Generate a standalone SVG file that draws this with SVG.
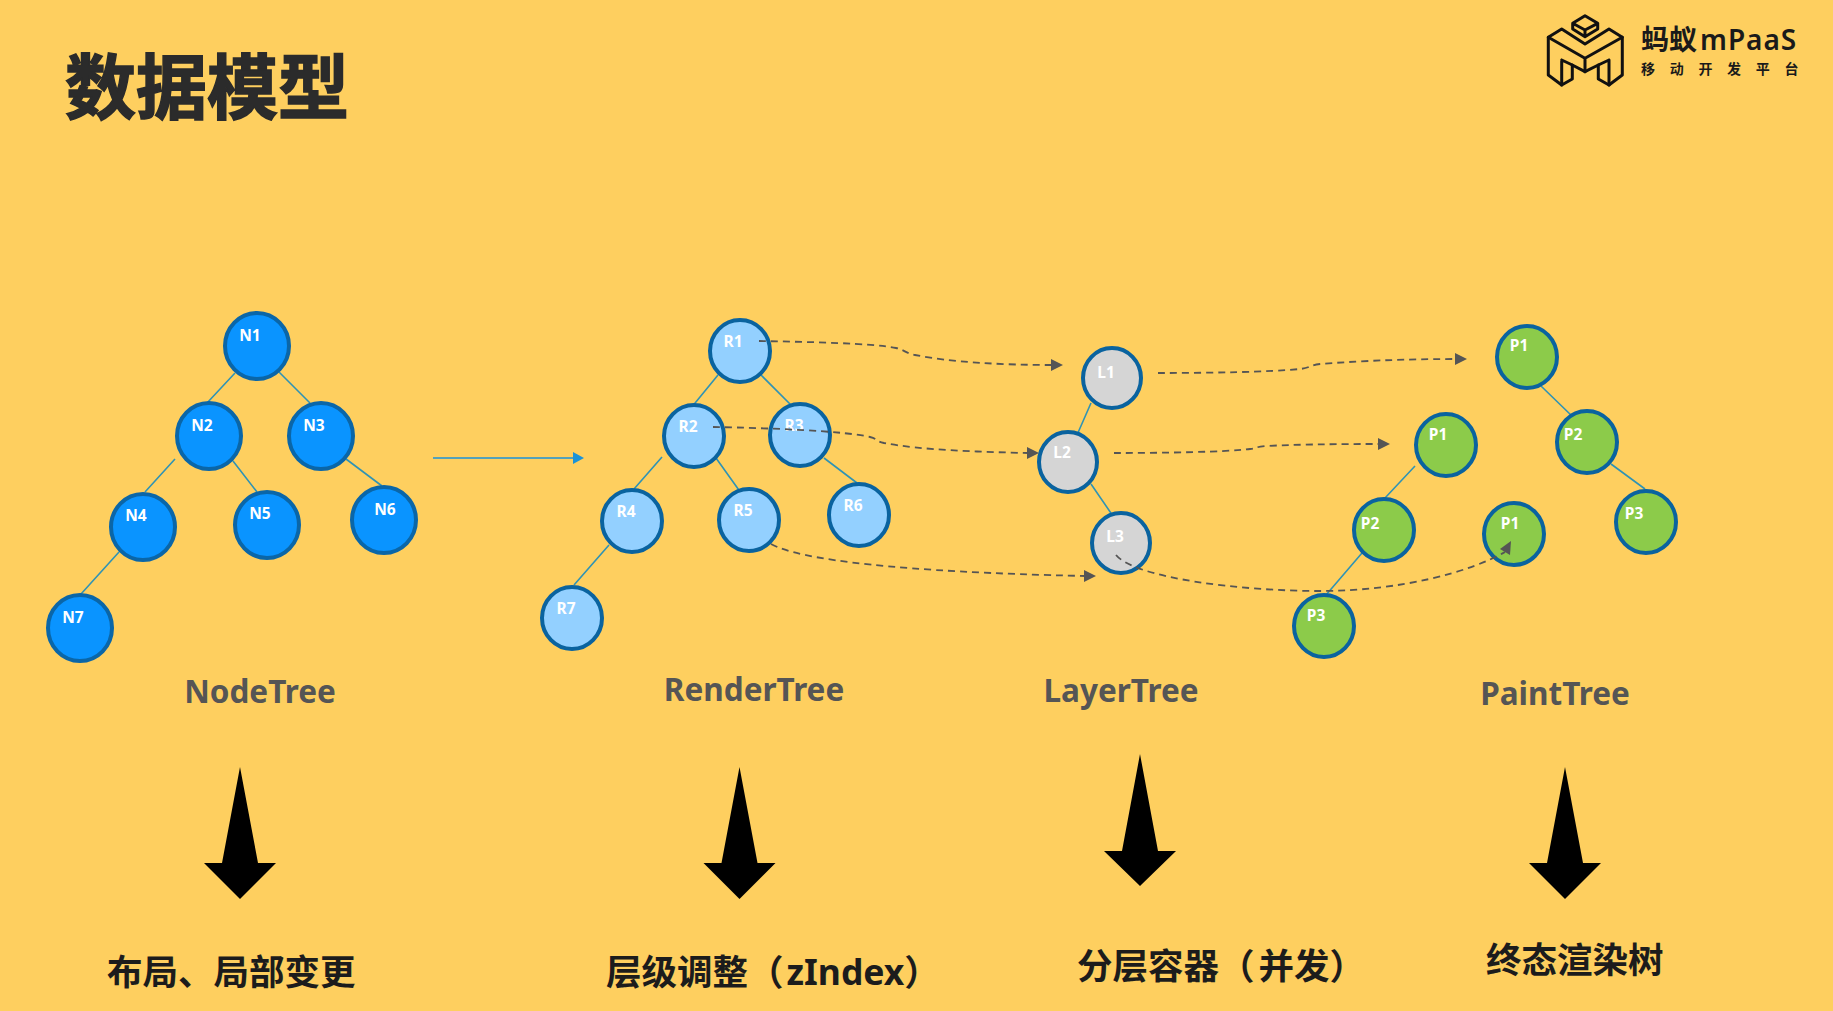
<svg xmlns="http://www.w3.org/2000/svg" width="1833" height="1011" viewBox="0 0 1833 1011">
<style>
.t{font-family:"Noto Sans","Noto Sans CJK SC",sans-serif;font-weight:700}
.l{font-size:15.500px;fill:#fff;text-anchor:middle}
.h{font-size:31.500px;fill:#555;text-anchor:middle}
.c{font-size:35.500px;fill:#1c1c1c}
.n{fill:#0a94ff;stroke:#0a66a8;stroke-width:4}
.r{fill:#93d0ff;stroke:#0a639f;stroke-width:4}
.g{fill:#d5d5d5;stroke:#0a639f;stroke-width:4}
.p{fill:#8ccb4a;stroke:#0a639f;stroke-width:4}
.e{stroke:#2f93b5;stroke-width:1.600;fill:none}
.d{stroke:#555;stroke-width:1.800;fill:none;stroke-dasharray:7 5}
</style>
<rect width="1833" height="1011" fill="#fecf5f"/>
<text class="t" x="65" y="113" font-size="71" fill="#2b2b2b" stroke="#2b2b2b" stroke-width="1.500">数据模型</text>
<g id="connectors">
<path class="e" d="M235 373L207 403M279 372L310 403M175 459L145 492M233 461L257 492M346 459L382 486M119 552L81 594"/>
<path d="M433 458H573" stroke="#1b93d8" stroke-width="1.600"/><path d="M573 452L584 458L573 464Z" fill="#1b93d8"/>
<path class="e" d="M718 375L691 408M761 375L794 408M662 457L634 489M716 458L741 493M824 458L857 483M609 545L574 585M1091 403L1077 435M1091 484L1115 519"/>
<path class="e" d="M1541 386L1573 417M1611 464L1645 489M1415 466L1385 498M1362 553L1326 595"/>
</g>
<g id="n1"><ellipse class="n" cx="257" cy="346" rx="32" ry="33"/><text class="t l" x="250" y="341">N1</text></g>
<g id="n2"><ellipse class="n" cx="209" cy="436" rx="32" ry="33"/><text class="t l" x="202" y="431">N2</text></g>
<g id="n3"><ellipse class="n" cx="321" cy="436" rx="32" ry="33"/><text class="t l" x="314" y="431">N3</text></g>
<g id="n4"><ellipse class="n" cx="143" cy="527" rx="32" ry="33"/><text class="t l" x="136" y="521">N4</text></g>
<g id="n5"><ellipse class="n" cx="267" cy="525" rx="32" ry="33"/><text class="t l" x="260" y="519">N5</text></g>
<g id="n6"><ellipse class="n" cx="384" cy="520" rx="32" ry="33"/><text class="t l" x="385" y="515">N6</text></g>
<g id="n7"><ellipse class="n" cx="80" cy="628" rx="32" ry="33"/><text class="t l" x="73" y="623">N7</text></g>
<g id="r1"><ellipse class="r" cx="740" cy="351" rx="30" ry="31"/><text class="t l" x="733" y="347">R1</text></g>
<g id="r2"><ellipse class="r" cx="694" cy="436" rx="30" ry="31"/><text class="t l" x="688" y="432">R2</text></g>
<g id="r3"><ellipse class="r" cx="800" cy="435" rx="30" ry="31"/><text class="t l" x="794" y="431">R3</text></g>
<g id="r4"><ellipse class="r" cx="632" cy="521" rx="30" ry="31"/><text class="t l" x="626" y="517">R4</text></g>
<g id="r5"><ellipse class="r" cx="749" cy="520" rx="30" ry="31"/><text class="t l" x="743" y="516">R5</text></g>
<g id="r6"><ellipse class="r" cx="859" cy="515" rx="30" ry="31"/><text class="t l" x="853" y="511">R6</text></g>
<g id="r7"><ellipse class="r" cx="572" cy="618" rx="30" ry="31"/><text class="t l" x="566" y="614">R7</text></g>
<g id="l1"><ellipse class="g" cx="1112" cy="378" rx="29" ry="30"/><text class="t l" x="1106" y="378">L1</text></g>
<g id="l2"><ellipse class="g" cx="1068" cy="462" rx="29" ry="30"/><text class="t l" x="1062" y="458">L2</text></g>
<g id="l3"><ellipse class="g" cx="1121" cy="543" rx="29" ry="30"/><text class="t l" x="1115" y="542">L3</text></g>
<g id="p1a"><ellipse class="p" cx="1527" cy="357" rx="30" ry="31"/><text class="t l" x="1519" y="351">P1</text></g>
<g id="p2a"><ellipse class="p" cx="1587" cy="442" rx="30" ry="31"/><text class="t l" x="1573" y="440">P2</text></g>
<g id="p3a"><ellipse class="p" cx="1646" cy="522" rx="30" ry="31"/><text class="t l" x="1634" y="519">P3</text></g>
<g id="p1b"><ellipse class="p" cx="1446" cy="445" rx="30" ry="31"/><text class="t l" x="1438" y="440">P1</text></g>
<g id="p2b"><ellipse class="p" cx="1384" cy="530" rx="30" ry="31"/><text class="t l" x="1370" y="529">P2</text></g>
<g id="p3b"><ellipse class="p" cx="1324" cy="626" rx="30" ry="31"/><text class="t l" x="1316" y="621">P3</text></g>
<g id="p1c"><ellipse class="p" cx="1514" cy="534" rx="30" ry="31"/><text class="t l" x="1510" y="529">P1</text></g>
<g id="dashed">
<path class="d" d="M759 341C810 342 870 343 896 348C905 350 905 353 915 355C950 362 1000 365 1052 365"/><path d="M1051 359L1063 365L1051 371Z" fill="#555"/>
<path class="d" d="M713 427C770 428 845 431 870 437C878 439 875 441 884 443C920 450 980 452 1028 453"/><path d="M1027 447L1039 453L1027 459Z" fill="#555"/>
<path class="d" d="M771 544C800 560 900 572 1085 576"/><path d="M1084 570L1096 576L1084 582Z" fill="#555"/>
<path class="d" d="M1158 373C1210 373 1270 372 1300 369C1310 368 1310 365 1320 364C1370 360 1420 359 1456 359"/><path d="M1455 353L1467 359L1455 365Z" fill="#555"/>
<path class="d" d="M1114 453C1165 453 1225 452 1250 449C1258 448 1255 447 1265 446C1310 444 1350 444 1379 444"/><path d="M1378 438L1390 444L1378 450Z" fill="#555"/>
<path class="d" d="M1116 555C1135 578 1240 591 1320 591C1400 591 1470 572 1505 552"/><path d="M1511 541L1500 549L1510 555Z" fill="#555"/>
</g>
<text class="t h" x="260" y="703">NodeTree</text>
<text class="t h" x="754" y="701">RenderTree</text>
<text class="t h" x="1121" y="702">LayerTree</text>
<text class="t h" x="1555" y="705">PaintTree</text>
<path d="M240 767L258 863L276 863L240 899L204 863L222 863Z" fill="#000"/>
<path d="M739.500 767L757.500 863L775.500 863L739.500 899L703.500 863L721.500 863Z" fill="#000"/>
<path d="M1140 754L1158 851L1176 851L1140 886L1104 851L1122 851Z" fill="#000"/>
<path d="M1565 767L1583 863L1601 863L1565 899L1529 863L1547 863Z" fill="#000"/>
<text class="t c" x="107" y="985">布局、局部变更</text>
<text class="t c" x="606" y="985">层级调整（<tspan dx="3">zIndex</tspan>）</text>
<text class="t c" x="1077" y="979">分层容器（<tspan dx="4">并发</tspan>）</text>
<text class="t c" x="1486" y="973">终态渲染树</text>
<g id="logo" fill="none" stroke="#111" stroke-width="3" stroke-linejoin="round" stroke-linecap="round">
<path d="M1548.300 37.300L1561.700 29L1585 44L1609 29L1622.300 37.300V75L1609 85L1598.300 79V65L1585 71.700L1572.300 65V79L1561.700 85L1548.300 75Z"/>
<path d="M1548.300 37.300L1585 58.300L1622.300 37.300M1585 58.300V71.700M1561.700 60V85M1561.700 60L1572.300 65M1609 60V85M1609 60L1598.300 65"/>
<path d="M1585 15.700L1597.700 23.300L1585 30L1572.700 23.300ZM1572.700 23.300V29L1585 36.700L1597.700 29V23.300M1585 30V36.700"/>
</g>
<text class="t" x="1641" y="50" font-size="28" fill="#1a1a1a">蚂蚁</text>
<text x="1700" y="50" font-size="28" font-weight="600" letter-spacing="1" fill="#1a1a1a" font-family="'Noto Sans',sans-serif">mPaaS</text>
<text class="t" x="1641" y="74" font-size="14" fill="#1a1a1a" letter-spacing="14.700">移动开发平台</text>
</svg>
